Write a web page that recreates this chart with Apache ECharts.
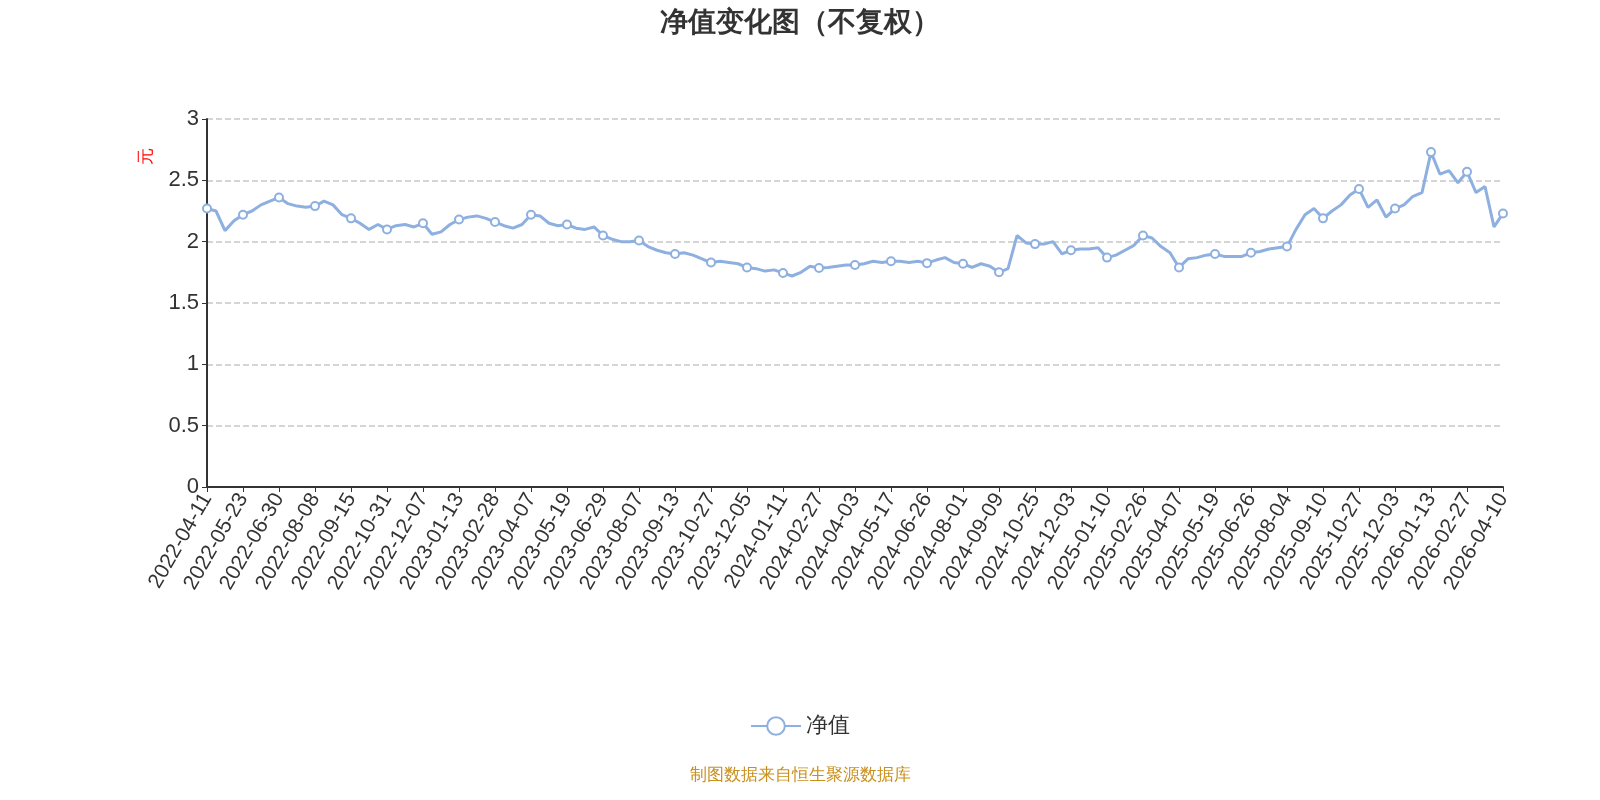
<!DOCTYPE html>
<html>
<head>
<meta charset="utf-8">
<script src="https://cdn.jsdelivr.net/npm/echarts@6/dist/echarts.min.js"></script>
<style>html,body{margin:0;padding:0;background:#fff;overflow:hidden}#chart{width:1600px;height:800px}</style>
</head>
<body>
<div id="chart"></div>
<script>
// tick dates (every 4th category)
const tickDates = [
  "2022-04-11","2022-05-23","2022-06-30","2022-08-08","2022-09-15","2022-10-31","2022-12-07",
  "2023-01-13","2023-02-28","2023-04-07","2023-05-19","2023-06-29","2023-08-07","2023-09-13",
  "2023-10-27","2023-12-05","2024-01-11","2024-02-27","2024-04-03","2024-05-17","2024-06-26",
  "2024-08-01","2024-09-09","2024-10-25","2024-12-03","2025-01-10","2025-02-26","2025-04-07",
  "2025-05-19","2025-06-26","2025-08-04","2025-09-10","2025-10-27","2025-12-03","2026-01-13",
  "2026-02-27","2026-04-10"
];
// net value, 4 points per tick interval
const netValue = [
  2.27, 2.25, 2.09, 2.17,
  2.22, 2.25, 2.30, 2.33,
  2.36, 2.31, 2.29, 2.28,
  2.29, 2.33, 2.30, 2.22,
  2.19, 2.15, 2.10, 2.14,
  2.10, 2.13, 2.14, 2.12,
  2.15, 2.06, 2.08, 2.14,
  2.18, 2.20, 2.21, 2.19,
  2.16, 2.13, 2.11, 2.14,
  2.22, 2.21, 2.15, 2.13,
  2.14, 2.11, 2.10, 2.12,
  2.05, 2.02, 2.00, 2.00,
  2.01, 1.96, 1.93, 1.91,
  1.90, 1.91, 1.89, 1.86,
  1.83, 1.84, 1.83, 1.82,
  1.79, 1.78, 1.76, 1.77,
  1.745, 1.72, 1.75, 1.80,
  1.785, 1.79, 1.80, 1.81,
  1.81, 1.82, 1.84, 1.83,
  1.84, 1.84, 1.83, 1.84,
  1.825, 1.85, 1.87, 1.83,
  1.82, 1.79, 1.82, 1.80,
  1.75, 1.78, 2.05, 1.99,
  1.98, 1.98, 2.00, 1.90,
  1.93, 1.94, 1.94, 1.95,
  1.87, 1.89, 1.93, 1.97,
  2.05, 2.03, 1.96, 1.91,
  1.79, 1.86, 1.87, 1.89,
  1.90, 1.88, 1.88, 1.88,
  1.91, 1.92, 1.94, 1.95,
  1.96, 2.10, 2.22, 2.27,
  2.19, 2.25, 2.30, 2.38,
  2.43, 2.28, 2.34, 2.20,
  2.27, 2.30, 2.37, 2.40,
  2.73, 2.55, 2.58, 2.48,
  2.57, 2.40, 2.45, 2.12,
  2.23
];
const categories = netValue.map((v, i) => (i % 4 === 0 ? tickDates[i / 4] : tickDates[Math.floor(i / 4)] + "#" + (i % 4)));

const chart = echarts.init(document.getElementById("chart"));
chart.setOption({
  animation: false,
  title: {
    text: "净值变化图（不复权）",
    left: "center",
    top: 4,
    textStyle: { fontSize: 28, fontWeight: "bold", color: "#333" }
  },
  legend: {
    bottom: 58,
    left: "center",
    itemWidth: 50,
    itemHeight: 22,
    textStyle: { fontSize: 22, color: "#333" },
    data: ["净值"]
  },
  graphic: [{
    type: "text",
    left: "center",
    bottom: 16,
    style: { text: "制图数据来自恒生聚源数据库", fill: "#c8901e", fontSize: 17 }
  }, {
    type: "text",
    left: 138,
    top: 148,
    rotation: Math.PI / 2,
    style: { text: "元", fill: "red", fontSize: 17 }
  }],
  grid: { left: 207, right: 97, top: 119, bottom: 313 },
  xAxis: {
    type: "category",
    data: categories,
    boundaryGap: false,
    axisLine: { lineStyle: { color: "#333", width: 2 } },
    axisTick: { interval: 3, lineStyle: { color: "#333" } },
    axisLabel: {
      interval: 3,
      rotate: 60,
      fontSize: 21,
      color: "#333",
      formatter: v => (v.indexOf("#") >= 0 ? "" : v)
    }
  },
  yAxis: {
    type: "value",
    min: 0,
    max: 3,
    interval: 0.5,
    axisLine: { show: true, lineStyle: { color: "#333", width: 2 } },
    axisTick: { show: true, lineStyle: { color: "#333" } },
    axisLabel: { fontSize: 22, color: "#333" },
    splitLine: { lineStyle: { type: "dashed", color: "#c8c8c8", width: 1.5 } }
  },
  series: [{
    name: "净值",
    type: "line",
    data: netValue.map((v, i) => (i % 4 === 0 ? v : { value: v, symbol: "none" })),
    symbol: "emptyCircle",
    symbolSize: 8,
    showAllSymbol: true,
    lineStyle: { color: "#8eb0e0", width: 3 },
    itemStyle: { color: "#8eb0e0", borderWidth: 1.5 }
  }]
});
</script>
</body>
</html>
